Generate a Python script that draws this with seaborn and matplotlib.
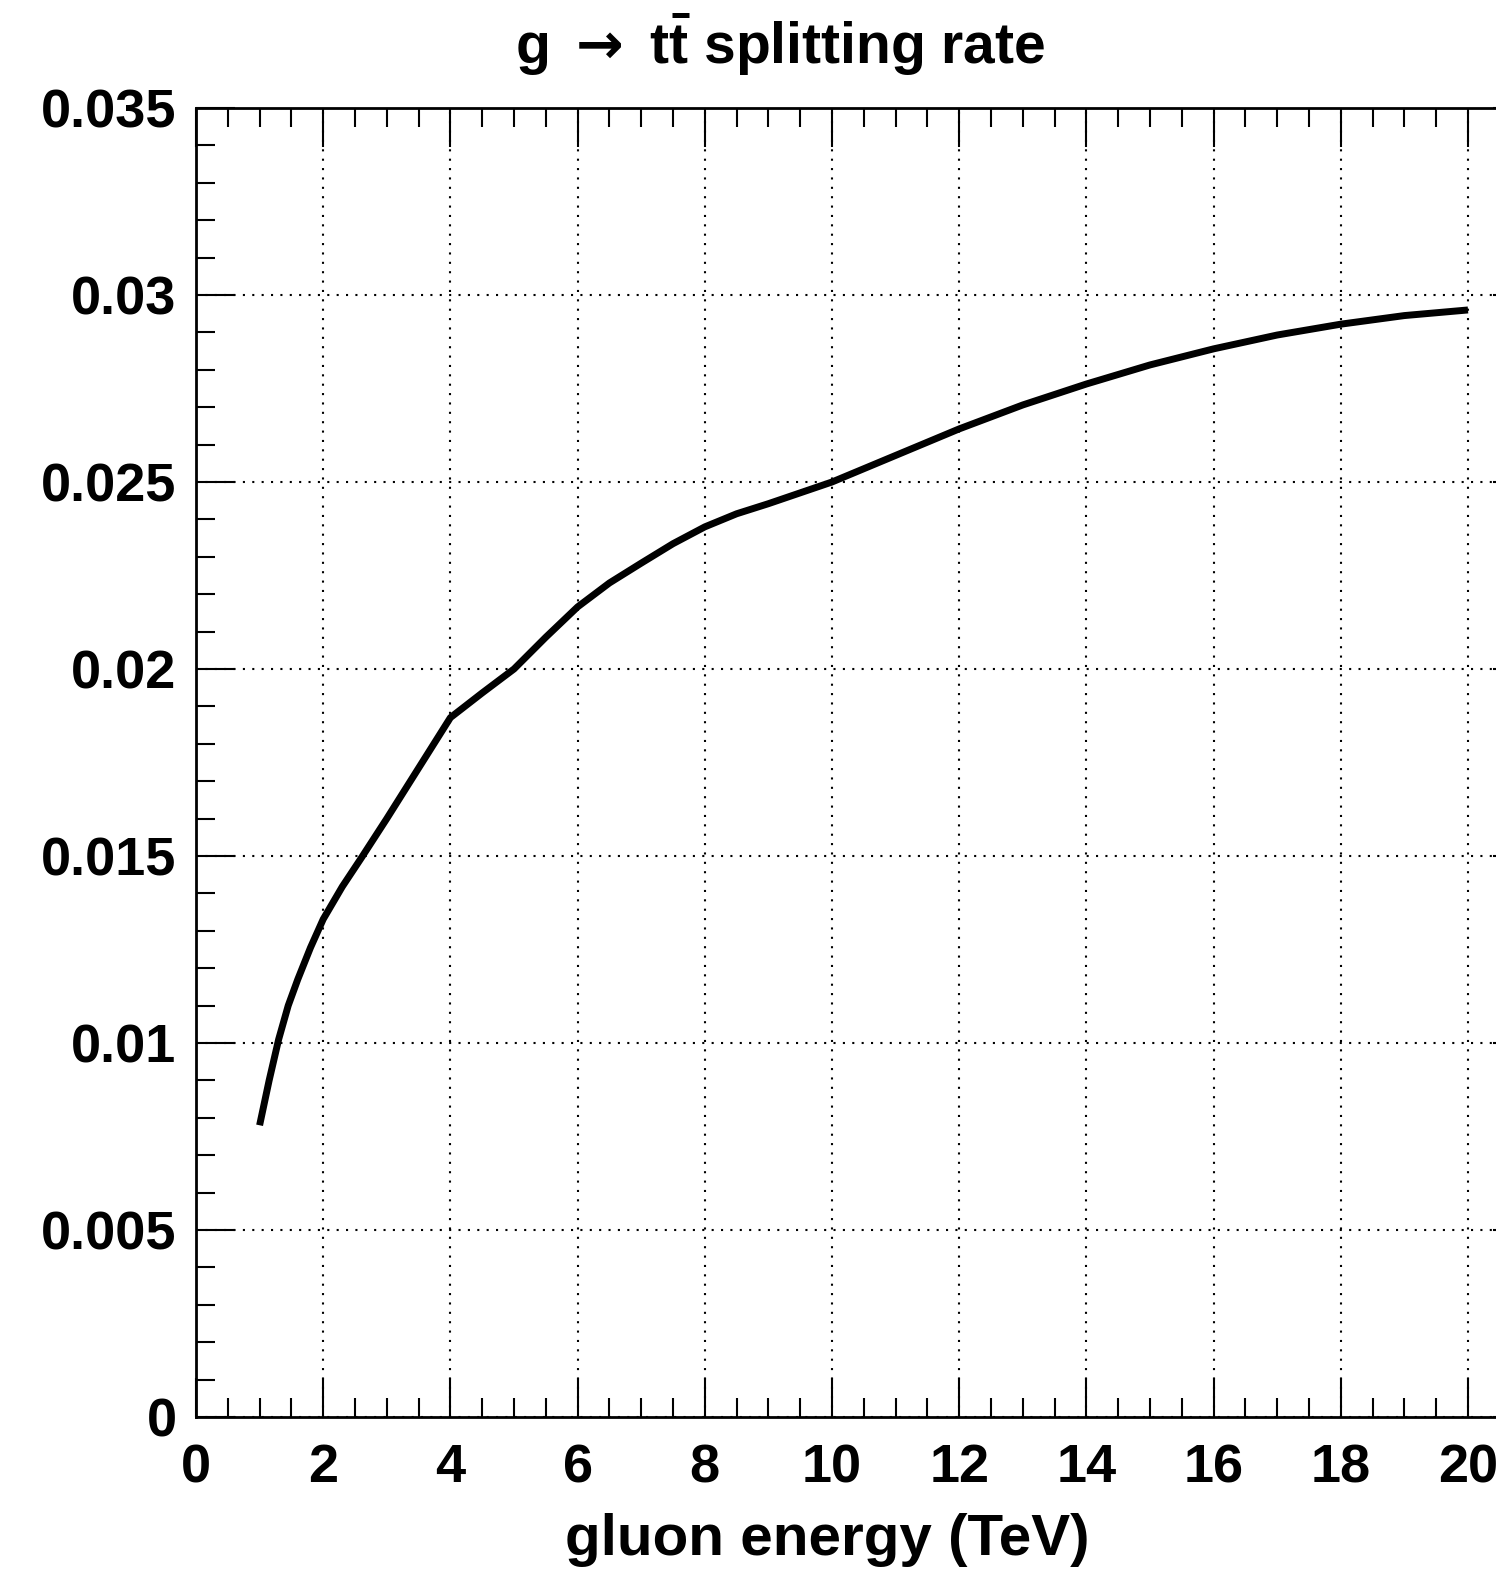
import matplotlib
matplotlib.use("Agg")
import matplotlib.pyplot as plt
from matplotlib.ticker import MultipleLocator
import pandas as pd
import seaborn as sns

# gluon energy (TeV) and g -> tt splitting rate
energy = [1.0, 1.15, 1.3, 1.45, 1.6, 1.8, 2.0, 2.3, 2.6, 3.0, 3.5, 4.0, 4.5,
          5.0, 5.5, 6.0, 6.5, 7.0, 7.5, 8.0, 8.5, 9.0, 10.0, 11.0, 12.0, 13.0,
          14.0, 15.0, 16.0, 17.0, 18.0, 19.0, 20.0]
rate = [0.0078, 0.0090, 0.0101, 0.0110, 0.0117, 0.01255, 0.01331, 0.01418,
        0.01495, 0.0160, 0.01735, 0.0187, 0.01936, 0.0200, 0.02085, 0.02166,
        0.0223, 0.02283, 0.02335, 0.0238, 0.02415, 0.02442, 0.02500, 0.02571,
        0.02642, 0.02706, 0.02762, 0.02813, 0.02856, 0.02893, 0.02922, 0.02945,
        0.0296]

df = pd.DataFrame({"energy": energy, "rate": rate})

sns.set_theme(style="ticks")
plt.rcParams["font.family"] = ["Liberation Sans", "DejaVu Sans"]
plt.rcParams["font.weight"] = "bold"
plt.rcParams["text.color"] = "black"
plt.rcParams["mathtext.fontset"] = "custom"
plt.rcParams["mathtext.rm"] = "Liberation Sans:bold"
plt.rcParams["mathtext.bf"] = "Liberation Sans:bold"
plt.rcParams["mathtext.it"] = "Liberation Sans:bold"
plt.rcParams["mathtext.sf"] = "DejaVu Sans"

W, H = 1496, 1570
fig = plt.figure(figsize=(W / 100, H / 100), dpi=100)
# axes run past the right edge of the picture, like the original crop
ax = fig.add_axes([196 / W, (H - 1417) / H, 21 * 63.6 / W, (1417 - 108) / H])

sns.lineplot(data=df, x="energy", y="rate", ax=ax, color="black", linewidth=5)
for ln in ax.get_lines():
    ln.set_solid_joinstyle("round")
    ln.set_solid_capstyle("butt")

ax.set_xlim(0, 21)
ax.set_ylim(0, 0.035)
ax.xaxis.set_minor_locator(MultipleLocator(0.5))
ax.yaxis.set_minor_locator(MultipleLocator(0.001))
ax.set_xticks(range(0, 21, 2))
ax.set_xticklabels([str(v) for v in range(0, 21, 2)])
ax.set_yticks([0, 0.005, 0.01, 0.015, 0.02, 0.025, 0.03, 0.035])
ax.set_yticklabels(["0", "0.005", "0.01", "0.015", "0.02", "0.025", "0.03", "0.035"])

ax.tick_params(which="both", direction="in", top=True, right=True, width=1.5,
               colors="black", labelcolor="black")
ax.tick_params(which="major", length=28)
ax.tick_params(which="minor", length=14)
ax.tick_params(axis="y", which="major", labelsize=39, pad=14)
ax.tick_params(axis="x", which="major", labelsize=39, pad=19)
for s in ax.spines.values():
    s.set_linewidth(2)
    s.set_color("black")

ax.grid(True, which="major", color="black", linestyle=(0, (1, 3.5)), linewidth=1.5)

ax.set_xlabel("")
ax.set_ylabel("")
fig.text(827 / W, 1 - 1540 / H, "gluon energy (TeV)", ha="center", va="center",
         fontsize=42, fontweight="bold", color="black")
fig.text(780 / W, 1 - 45 / H, r"g $\mathsf{\rightarrow}$ t$\bar{\mathrm{t}}$ splitting rate",
         ha="center", va="center", fontsize=41, fontweight="bold", color="black")

fig.savefig("out.png", dpi=100)
